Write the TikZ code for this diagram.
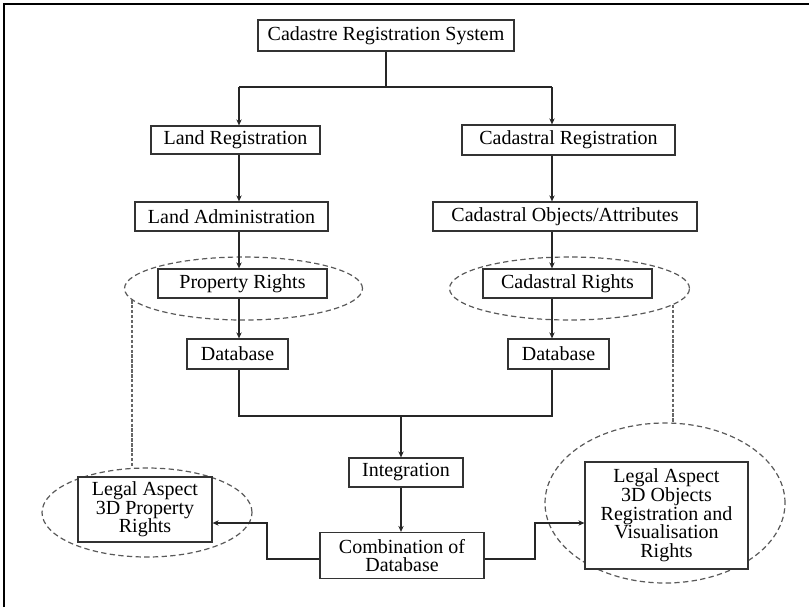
\documentclass[tikz,border=0pt]{standalone}
\usepackage{fontspec}
\setmainfont{Liberation Serif}
\usetikzlibrary{arrows.meta,shapes.geometric}
\begin{document}
\begin{tikzpicture}[x=0.75pt,y=-0.75pt,
  box/.style 2 args={draw=black!80, line width=0.9pt, fill=white, rectangle, inner sep=0pt, align=center,
    minimum width=#1*0.75pt, minimum height=#2*0.75pt, font=\fontsize{15}{14}\selectfont},
  ell/.style 2 args={draw=black!65, line width=0.9pt, dash pattern=on 4pt off 2.5pt, ellipse, inner sep=0pt,
    minimum width=#1*0.75pt, minimum height=#2*0.75pt},
  vdash/.style={draw=black!60, line width=1.4pt, dash pattern=on 2.5pt off 1.2pt},
  con/.style={draw=black!85, line width=0.8pt},
  arr/.style={con, -{Stealth[length=4.5pt,width=4pt]}}
]
\useasboundingbox (0,0) rectangle (809,607);
\draw[line width=1.6pt] (4,607) -- (4,4) -- (809,4);

% ellipses
\node[ell={238}{63}] (eL1) at (243.5,288.5) {};
\node[ell={240}{63}] (eR1) at (569.5,288.5) {};
\node[ell={210}{89}] (eL2) at (147,512.5) {};
\node[ell={240}{160}] (eR2) at (665,503) {};
\draw[vdash] (eL1.186.8) -- (eL1.186.8 |- eL2.north);
\draw[vdash] (eR1.351.6) -- (eR1.351.6 |- eR2.north);

% boxes
\node[box={256}{31}] (top) at (386,35.5) {Cadastre Registration System};
\node[box={169}{28}] (lreg) at (235.5,140) {Land Registration};
\node[box={213}{30}] (creg) at (568.5,140) {Cadastral Registration};
\node[box={193}{29}] (ladm) at (231.5,216.5) {Land Administration};
\node[box={264}{29}] (cobj) at (565,216.5) {Cadastral Objects/Attributes};
\node[box={169}{29}] (prop) at (242.5,283.5) {Property Rights};
\node[box={169}{29}] (crig) at (567.5,283.5) {Cadastral Rights};
\node[box={101}{30}] (db1) at (237.5,354) {Database};
\node[box={101}{30}] (db2) at (558.5,354) {Database};
\node[box={114}{29}] (integ) at (406,472.5) {Integration};
\node[box={164}{46}] (comb) at (402,555.5) {Combination of\\Database};
\node[box={134}{65}] (legL) at (145,509.5) {Legal Aspect\\3D Property\\Rights};
\node[box={163}{107}] (legR) at (666.5,515.5) {Legal Aspect\\3D Objects\\Registration and\\Visualisation\\Rights};

% coordinates
\coordinate (br) at (386,87);
\coordinate (brL) at (239,87);
\coordinate (brR) at (552,87);
\coordinate (jn) at (401,416);
\coordinate (jL) at (239,416);
\coordinate (jR) at (552,416);
\coordinate (cl) at (267,559);
\coordinate (cr) at (535,559);
\coordinate (al) at (212,523);
\coordinate (ar) at (585,523);

% connectors
\draw[con] (top.south) -- (br);
\draw[con] (brL) -- (brR);
\draw[arr] (brL) -- (brL |- lreg.north);
\draw[arr] (brR) -- (brR |- creg.north);
\draw[arr] (brL |- lreg.south) -- (brL |- ladm.north);
\draw[arr] (brR |- creg.south) -- (brR |- cobj.north);
\draw[arr] (brL |- ladm.south) -- (brL |- prop.north);
\draw[arr] (brR |- cobj.south) -- (brR |- crig.north);
\draw[arr] (brL |- prop.south) -- (brL |- db1.north);
\draw[arr] (brR |- crig.south) -- (brR |- db2.north);
\draw[con] (brL |- db1.south) -- (jL) -- (jR) -- (brR |- db2.south);
\draw[arr] (jn) -- (jn |- integ.north);
\draw[arr] (jn |- integ.south) -- (jn |- comb.north);
\draw[arr] (comb.west |- cl) -- (cl) |- (legL.east |- al);
\draw[arr] (comb.east |- cr) -- (cr) |- (legR.west |- ar);
\end{tikzpicture}
\end{document}
